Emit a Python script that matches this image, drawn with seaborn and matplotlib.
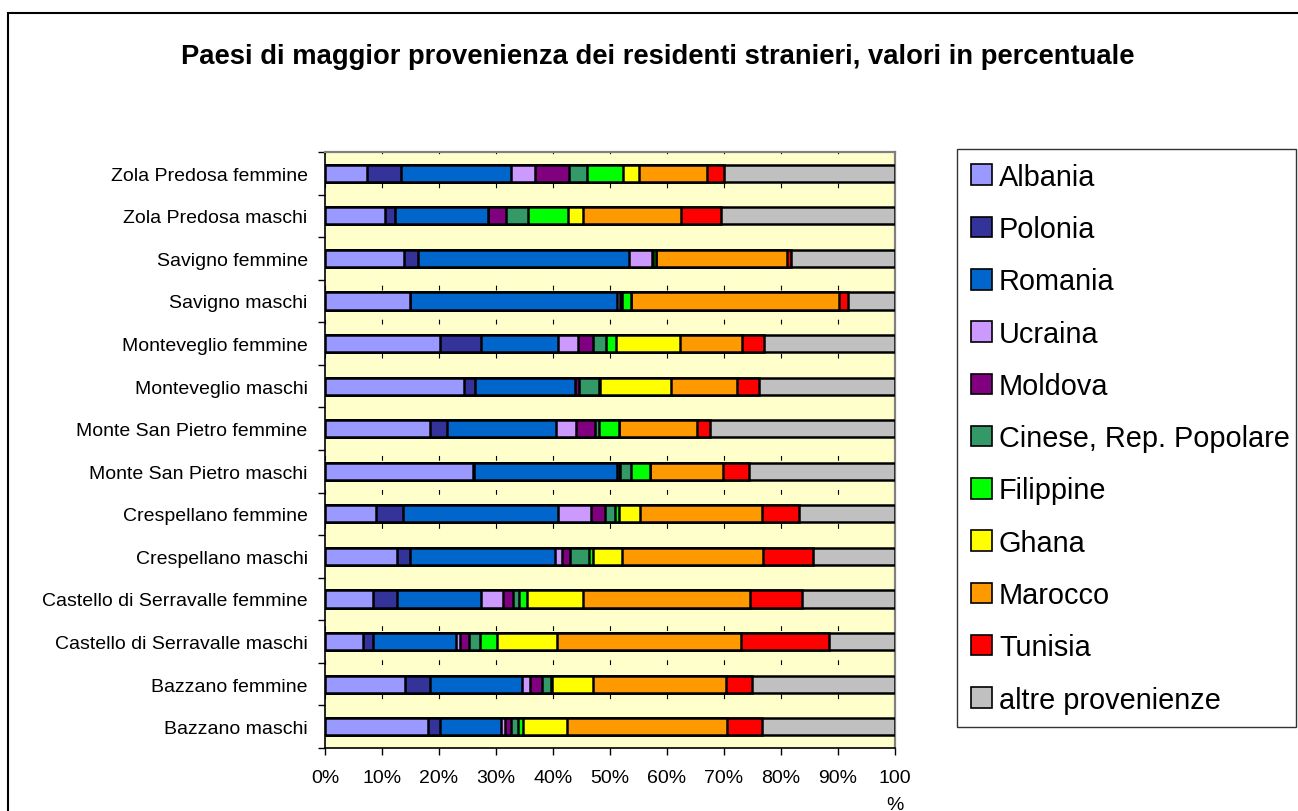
import matplotlib
matplotlib.use("Agg")
import matplotlib.pyplot as plt
import seaborn as sns
import pandas as pd
import numpy as np
from matplotlib.patches import Rectangle, Patch

# categorie (dall'alto verso il basso)
comuni = [
    "Zola Predosa femmine", "Zola Predosa maschi",
    "Savigno femmine", "Savigno maschi",
    "Monteveglio femmine", "Monteveglio maschi",
    "Monte San Pietro femmine", "Monte San Pietro maschi",
    "Crespellano femmine", "Crespellano maschi",
    "Castello di Serravalle femmine", "Castello di Serravalle maschi",
    "Bazzano femmine", "Bazzano maschi",
]

paesi = ["Albania", "Polonia", "Romania", "Ucraina", "Moldova",
         "Cinese, Rep. Popolare", "Filippine", "Ghana", "Marocco",
         "Tunisia", "altre provenienze"]

colori = ["#9999FF", "#333399", "#0066CC", "#CC99FF", "#800080",
          "#339966", "#00FF00", "#FFFF00", "#FF9900", "#FF0000", "#C0C0C0"]

# valori in percentuale, stesso ordine di "comuni"
albania   = [7.4, 10.6, 13.9, 14.9, 20.1, 24.3, 18.3, 25.9, 8.9, 12.7, 8.4, 6.6, 14.1, 18.1]
polonia   = [6.0, 1.6, 2.4, 0.0, 7.3, 2.1, 3.0, 0.3, 4.8, 2.2, 4.3, 1.8, 4.3, 2.0]
romania   = [19.3, 16.4, 37.0, 36.4, 13.4, 17.4, 19.1, 25.1, 27.2, 25.5, 14.7, 14.6, 16.1, 10.7]
ucraina   = [4.2, 0.0, 4.1, 0.4, 3.6, 0.0, 3.5, 0.2, 5.8, 1.2, 3.8, 0.7, 1.5, 0.8]
moldova   = [5.9, 3.1, 0.0, 0.2, 2.7, 0.8, 3.2, 0.2, 2.5, 1.4, 1.8, 1.5, 2.0, 1.1]
cinese    = [3.2, 3.9, 0.2, 0.2, 2.2, 3.4, 0.7, 2.0, 1.6, 3.4, 1.0, 2.0, 1.7, 1.1]
filippine = [6.3, 7.1, 0.6, 1.6, 1.7, 0.3, 3.6, 3.3, 0.7, 0.7, 1.4, 2.9, 0.2, 0.9]
ghana     = [2.8, 2.6, 0.0, 0.0, 11.3, 12.4, 0.0, 0.0, 3.7, 5.0, 9.8, 10.6, 7.2, 7.7]
marocco   = [12.0, 17.1, 23.0, 36.5, 10.8, 11.5, 13.6, 12.9, 21.5, 24.7, 29.3, 32.2, 23.3, 28.2]
tunisia   = [2.9, 7.1, 0.7, 1.5, 4.0, 3.9, 2.3, 4.4, 6.4, 8.9, 9.1, 15.5, 4.5, 6.1]
altre     = [30.0, 30.5, 18.2, 8.3, 22.9, 23.9, 32.3, 25.7, 16.9, 14.3, 16.4, 11.6, 25.1, 23.3]

serie = [albania, polonia, romania, ucraina, moldova, cinese,
         filippine, ghana, marocco, tunisia, altre]

df = pd.DataFrame({p: v for p, v in zip(paesi, serie)}, index=comuni)
# normalizzo a 100 (grafico in percentuale)
df = df.div(df.sum(axis=1), axis=0) * 100
cum = df.cumsum(axis=1)

sns.set_style("white")
plt.rcParams["font.family"] = ["Liberation Sans", "DejaVu Sans"]
plt.rcParams["text.color"] = "black"
plt.rcParams["xtick.color"] = "black"
plt.rcParams["ytick.color"] = "black"

fig = plt.figure(figsize=(12.98, 8.12), dpi=100)
ax = fig.add_axes([325 / 1298, 1 - 749 / 812, 570 / 1298, (749 - 153) / 812])
ax.set_facecolor("#FFFFCC")

# barre impilate: disegno dalla somma piu' grande alla piu' piccola
for p, c in reversed(list(zip(paesi, colori))):
    d = pd.DataFrame({"comune": comuni, "val": cum[p].values})
    sns.barplot(data=d, x="val", y="comune", orient="h", color=c,
                edgecolor="black", linewidth=1.8, width=0.4,
                saturation=1, ax=ax, zorder=3)

ax.set_xlim(0, 100)
ax.set_ylim(len(comuni) - 0.5, -0.5)
ax.set_xlabel("")
ax.set_ylabel("")

# griglia verticale tratteggiata
h_px = (749 - 153)
periodo = h_px / len(comuni) * 72 / fig.dpi
ax.set_xticks(np.arange(0, 101, 10))
ax.xaxis.grid(True, color="black", linewidth=0.8,
              linestyle=(periodo * 0.55, (periodo * 0.14, periodo * 0.86)), zorder=1)
ax.yaxis.grid(False)
ax.set_axisbelow(True)
labels = [f"{v}%" for v in range(0, 100, 10)] + ["100\n%"]
ax.set_xticklabels(labels, fontsize=14)
ax.get_xticklabels()[-1].set_linespacing(1.75)
ax.tick_params(axis="x", length=5, width=1, color="black", pad=10, direction="out")
ax.tick_params(axis="x", bottom=True)
ax.tick_params(axis="y", which="major", length=0, pad=12.5, labelsize=14)
ax.set_yticks(np.arange(-0.5, len(comuni), 1), minor=True)
ax.tick_params(axis="y", which="minor", left=True, length=5, width=1, color="black")

for s in ["left", "bottom"]:
    ax.spines[s].set_color("black")
    ax.spines[s].set_linewidth(1.2)
for s in ["top", "right"]:
    ax.spines[s].set_color("#808080")
    ax.spines[s].set_linewidth(1.6)
    ax.spines[s].set_visible(True)

fig.suptitle("Paesi di maggior provenienza dei residenti stranieri, valori in percentuale",
             x=658 / 1298, y=1 - 57 / 812, va="center", fontsize=19.7,
             fontweight="bold", color="black")

handles = [Patch(facecolor=c, edgecolor="black", linewidth=1.2) for c in colori]
leg = fig.legend(handles, paesi, loc="upper left",
                 bbox_to_anchor=(957 / 1298, 1 - 728 / 812, 339 / 1298, 578 / 812),
                 fontsize=20.8, frameon=True, fancybox=False, edgecolor="black",
                 handlelength=0.72, handleheight=0.72, handletextpad=0.25,
                 labelspacing=0.84, borderpad=0.48, borderaxespad=0, mode="expand")
leg.get_frame().set_linewidth(1)
for t in leg.get_texts():
    t.set_color("black")

# bordo esterno della figura
fig.patches.append(Rectangle((8 / 1298, -0.1), 1.2, 1 - 14 / 812 + 0.1,
                             transform=fig.transFigure, fill=False,
                             edgecolor="black", linewidth=1.5))

fig.savefig("out.png", dpi=100)
